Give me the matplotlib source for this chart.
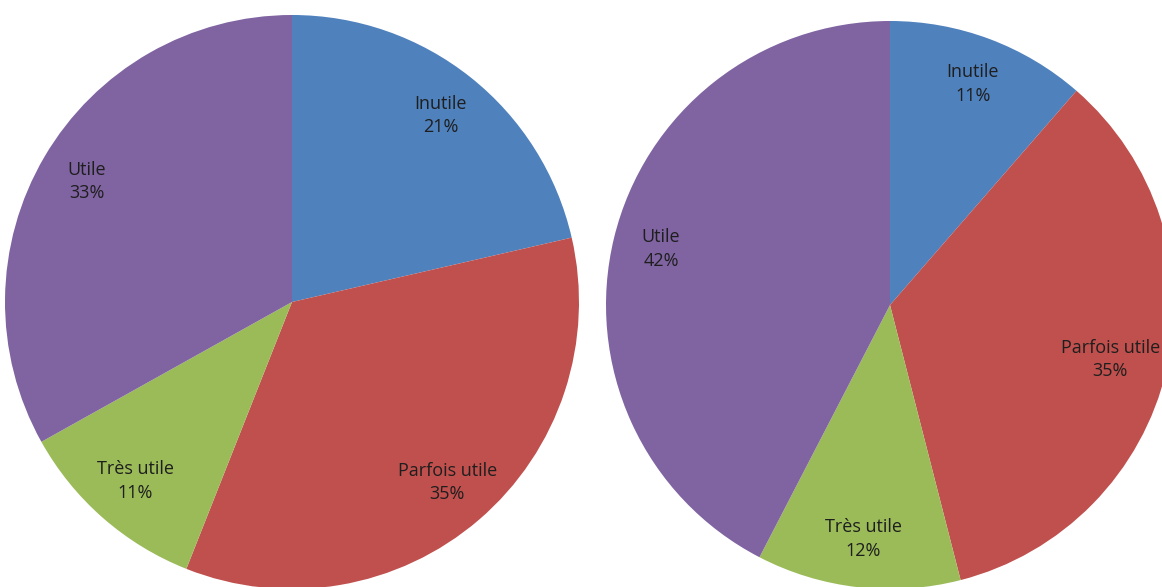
import matplotlib.pyplot as plt

categories = ['Inutile', 'Parfois utile', 'Très utile', 'Utile']
left_values = [21.4, 34.6, 10.9, 33.1]
right_values = [11.4, 34.6, 11.6, 42.4]
colors = ['#4F81BD', '#C0504D', '#9BBB59', '#8064A2']

plt.rcParams['font.family'] = ['Open Sans', 'DejaVu Sans']

W, H = 1162, 587
fig = plt.figure(figsize=(W / 100, H / 100), dpi=100)
ax = fig.add_axes([0, 0, 1, 1])


def draw_pie(values, center, radius):
    labels = [f"{c}\n{v:.0f}%" for c, v in zip(categories, values)]
    ax.pie(values, labels=labels, colors=colors, startangle=90,
           counterclock=False, center=center, radius=radius,
           labeldistance=0.83, textprops={'fontsize': 13, 'color': '#1e1e1e',
                                          'ha': 'center', 'va': 'center',
                                          'linespacing': 1.4},
           wedgeprops={'linewidth': 0})


# pies are placed in pixel coordinates (y measured from bottom)
draw_pie(left_values, (292, H - 302), 287)
draw_pie(right_values, (890, H - 305), 284)

ax.set_xlim(0, W)
ax.set_ylim(0, H)
ax.set_aspect('equal')
ax.axis('off')

# keep labels inside the picture
fig.canvas.draw()
renderer = fig.canvas.get_renderer()
for t in ax.texts:
    t.set_horizontalalignment('center')
    bb = t.get_window_extent(renderer)
    x, y = t.get_position()
    if bb.x1 > W - 2:
        t.set_position((x - (bb.x1 - (W - 2)), y))

fig.savefig('out.png', dpi=100)
